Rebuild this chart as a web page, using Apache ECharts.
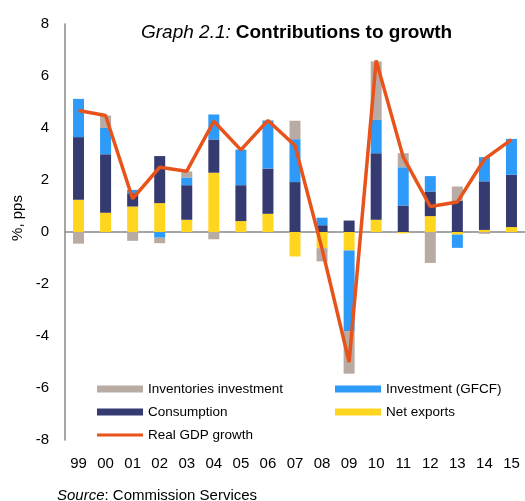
<!DOCTYPE html>
<html>
<head>
<meta charset="utf-8">
<script src="https://cdn.jsdelivr.net/npm/echarts@6/dist/echarts.min.js"></script>
<style>
  html, body { margin: 0; padding: 0; background: #fff; }
  #main { width: 525px; height: 501px; }
</style>
</head>
<body>
<div id="main"></div>
<script>
// years on the category axis
const years = ['99', '00', '01', '02', '03', '04', '05', '06', '07', '08', '09', '10', '11', '12', '13', '14', '15'];
// contributions, pps
const netExports = [1.24, 0.74, 0.98, 1.11, 0.47, 2.28, 0.42, 0.70, -0.94, -0.62, -0.71, 0.47, -0.05, 0.61, -0.10, 0.08, 0.19];
const consumption = [2.41, 2.25, 0.51, 1.81, 1.33, 1.28, 1.38, 1.74, 1.92, 0.26, 0.44, 2.56, 1.02, 0.95, 1.21, 1.87, 2.01];
const investment = [1.47, 1.01, 0.13, -0.22, 0.30, 0.96, 1.37, 1.85, 1.65, 0.29, -3.10, 1.28, 1.47, 0.59, -0.51, 0.93, 1.38];
const inventories = [-0.45, 0.48, -0.34, -0.21, 0.23, -0.28, 0, 0, 0.71, -0.51, -1.64, 2.25, 0.54, -1.19, 0.54, -0.07, 0];
// real GDP growth, %
const gdp = [4.67, 4.48, 1.28, 2.49, 2.34, 4.26, 3.16, 4.29, 3.33, -0.65, -5.0, 6.6, 2.88, 0.98, 1.15, 2.8, 3.55];
const yTicks = [-8, -6, -4, -2, 0, 2, 4, 6, 8];

const font = 'Liberation Sans, Arial, sans-serif';
const myChart = echarts.init(document.getElementById('main'), null, {renderer: 'canvas'});

function bar(name, data, color) {
    return {
        name, data,
        type: 'bar',
        stack: 'contrib',
        barWidth: 11,
        itemStyle: {color},
        emphasis: {disabled: true}
    };
}

// legend blocks, placed like the original two-column key
const legendText = {fontSize: 13.5, color: '#000', fontFamily: font};
function legendBlock(left, top, names, h) {
    return {
        left, top, padding: 0, orient: 'vertical',
        itemWidth: 46, itemHeight: h, itemGap: 9,
        textStyle: legendText,
        itemStyle: {borderWidth: 0},
        lineStyle: {width: 0},
        data: names.map(name => ({name, icon: 'rect'}))
    };
}

const option = {
    animation: false,
    textStyle: {fontFamily: font},
    title: {
        left: 136,
        top: 18,
        text: '{i|Graph 2.1:} {b|Contributions to growth}',
        textStyle: {
            fontWeight: 'normal',
            rich: {
                i: {fontStyle: 'italic', fontWeight: 'normal', fontSize: 19, color: '#000', fontFamily: font},
                b: {fontWeight: 'bold', fontSize: 19, color: '#000', fontFamily: font}
            }
        }
    },
    grid: {left: 65, right: 0, top: 24, bottom: 61, containLabel: false},
    legend: [
        legendBlock(97, 382, ['Inventories investment', 'Consumption'], 7),
        legendBlock(335, 382, ['Investment (GFCF)', 'Net exports'], 7),
        legendBlock(97, 428, ['Real GDP growth'], 3)
    ],
    xAxis: [
        {
            type: 'category', data: years, position: 'bottom',
            axisLine: {onZero: true, lineStyle: {color: '#888', width: 1.5}},
            axisTick: {show: false},
            axisLabel: {show: false}
        },
        {
            type: 'category', data: years, position: 'bottom',
            axisLine: {show: false, onZero: false},
            axisTick: {show: false},
            axisLabel: {color: '#000', fontSize: 15, margin: 16, interval: 0, fontFamily: font}
        }
    ],
    yAxis: {
        type: 'value', min: -8, max: 8, interval: 2,
        axisLine: {show: true, lineStyle: {color: '#888', width: 1.5}},
        axisTick: {show: false},
        splitLine: {show: false},
        axisLabel: {
            color: '#000', fontSize: 15, margin: 16, fontFamily: font,
            formatter: v => yTicks.includes(v) ? String(v) : ''
        }
    },
    graphic: [
        {
            type: 'text', x: 18, y: 218, rotation: Math.PI / 2,
            style: {text: '%, pps', fill: '#000', font: '15px ' + font, align: 'center', verticalAlign: 'middle'}
        },
        {
            type: 'text', left: 57, top: 488,
            style: {
                text: '{i|Source}: Commission Services',
                fill: '#000', font: '15px ' + font,
                rich: {i: {fontStyle: 'italic', fontSize: 15, fontFamily: font}}
            }
        }
    ],
    series: [
        bar('Net exports', netExports, '#FFD520'),
        bar('Consumption', consumption, '#353A70'),
        bar('Investment (GFCF)', investment, '#2E9BF8'),
        bar('Inventories investment', inventories, '#B8ABA3'),
        {
            name: 'Real GDP growth', type: 'line', data: gdp,
            symbol: 'none', z: 5,
            lineStyle: {color: '#E8531B', width: 3.5},
            itemStyle: {color: '#E8531B'},
            emphasis: {disabled: true}
        }
    ]
};
myChart.setOption(option);
</script>
</body>
</html>
